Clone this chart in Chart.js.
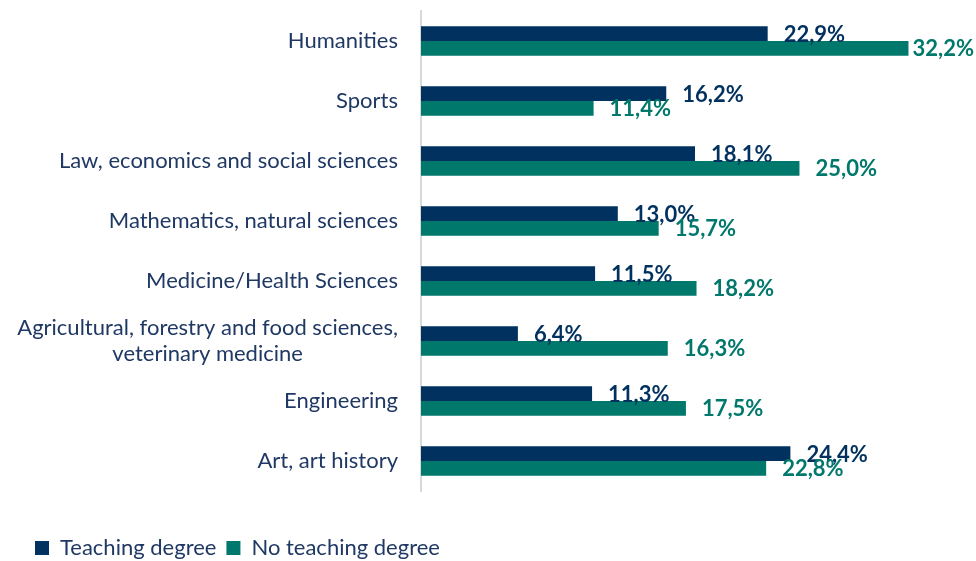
<!DOCTYPE html>
<html>
<head>
<meta charset="utf-8">
<script src="https://cdn.jsdelivr.net/npm/chart.js@4"></script>
<style>
  html, body { margin: 0; padding: 0; background: #fff; }
</style>
</head>
<body>
<canvas id="chart" width="976" height="561"></canvas>
<script>
// Data
const categories = [
    'Humanities',
    'Sports',
    'Law, economics and social sciences',
    'Mathematics, natural sciences',
    'Medicine/Health Sciences',
    ['Agricultural, forestry and food sciences,', 'veterinary medicine'],
    'Engineering',
    'Art, art history'
];
const teachingDegree = [22.9, 16.2, 18.1, 13.0, 11.5, 6.4, 11.3, 24.4];
const noTeachingDegree = [32.2, 11.4, 25.0, 15.7, 18.2, 16.3, 17.5, 22.8];
const seriesNames = ['Teaching degree', 'No teaching degree'];

const NAVY = '#00315F';
const TEAL = '#00786B';
const TEXT = '#1F3864';
const FONT = 'Lato';

const fmt = v => v.toFixed(1).replace('.', ',') + '%';

// value labels just past the bar ends
const valueLabels = {
    id: 'valueLabels',
    afterDatasetsDraw(chart) {
        const ctx = chart.ctx;
        ctx.save();
        ctx.font = `bold 22px ${FONT}`;
        ctx.textBaseline = 'middle';
        ctx.textAlign = 'left';
        chart.data.datasets.forEach((ds, di) => {
            const meta = chart.getDatasetMeta(di);
            ctx.fillStyle = ds.backgroundColor;
            meta.data.forEach((bar, i) => {
                const txt = fmt(ds.data[i]);
                const w = ctx.measureText(txt).width;
                let x = bar.x + 16;
                if (x + w > chart.width - 2) x = chart.width - 2 - w;
                ctx.fillText(txt, x, bar.y + 1);
            });
        });
        ctx.restore();
    }
};

// category labels: right aligned block, multi-line text centred within it
const categoryLabels = {
    id: 'categoryLabels',
    afterDraw(chart) {
        const ctx = chart.ctx;
        const y = chart.scales.y;
        ctx.save();
        ctx.font = `22px ${FONT}`;
        ctx.fillStyle = TEXT;
        ctx.textBaseline = 'middle';
        ctx.textAlign = 'center';
        const lh = 26;
        categories.forEach((lab, i) => {
            const lines = Array.isArray(lab) ? lab : [lab];
            const widest = Math.max(...lines.map(l => ctx.measureText(l).width));
            const cx = chart.chartArea.left - 23 - widest / 2;
            const cy = y.getPixelForValue(i);
            const y0 = cy - (lines.length - 1) * lh / 2;
            lines.forEach((l, k) => ctx.fillText(l, cx, y0 + k * lh));
        });
        ctx.restore();
    }
};

new Chart(document.getElementById('chart'), {
    type: 'bar',
    data: {
        labels: categories,
        datasets: [
            { label: seriesNames[0], data: teachingDegree, backgroundColor: NAVY },
            { label: seriesNames[1], data: noTeachingDegree, backgroundColor: TEAL }
        ]
    },
    options: {
        indexAxis: 'y',
        responsive: false,
        animation: false,
        layout: { padding: { left: 25, right: 10, top: 11, bottom: -8 } },
        datasets: {
            bar: { categoryPercentage: 0.49, barPercentage: 1.0 }
        },
        scales: {
            x: {
                min: 0,
                max: 36,
                ticks: { display: false },
                grid: { display: false },
                border: { display: false },
                afterFit: s => { s.height = 36; }
            },
            y: {
                grid: { display: false },
                border: { display: true, color: '#D9D9D9', width: 2 },
                ticks: { display: false },
                afterFit: s => { s.width = 421 - 25; }
            }
        },
        plugins: {
            legend: {
                position: 'bottom',
                align: 'start',
                labels: {
                    boxWidth: 14,
                    boxHeight: 14,
                    padding: 10,
                    color: TEXT,
                    font: { family: FONT, size: 22 }
                }
            },
            tooltip: { enabled: false }
        }
    },
    plugins: [valueLabels, categoryLabels]
});
</script>
</body>
</html>
